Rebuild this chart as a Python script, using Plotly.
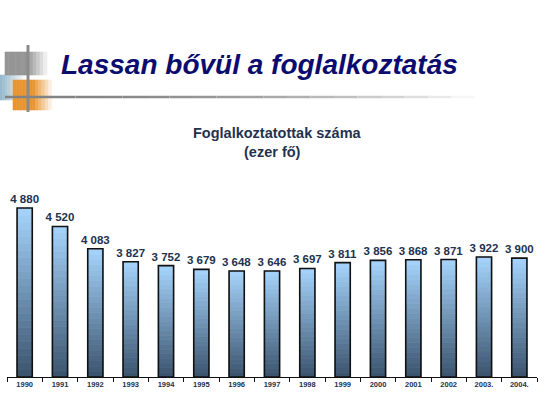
import plotly.graph_objects as go

years = ["1990", "1991", "1992", "1993", "1994", "1995", "1996", "1997",
         "1998", "1999", "2000", "2001", "2002", "2003.", "2004."]
employed = [4880, 4520, 4083, 3827, 3752, 3679, 3648, 3646,
            3697, 3811, 3856, 3868, 3871, 3922, 3900]

Y_MIN = 1570
Y_MAX = 5430
N_SEG = 24
BAR_W = 0.43

def lerp(c1, c2, t):
    return "rgb(%d,%d,%d)" % tuple(round(a + (b - a) * t) for a, b in zip(c1, c2))

bottom_c = (58, 82, 108)
top_c = (166, 212, 252)

fig = go.Figure()
# gradient bars built from stacked segments of each value
for k in range(N_SEG):
    seg = [(v - Y_MIN) / N_SEG for v in employed]
    base = [Y_MIN + k * s for s in seg]
    col = lerp(bottom_c, top_c, (k + 0.5) / N_SEG)
    fig.add_trace(go.Bar(
        x=years, y=seg, base=base, width=BAR_W,
        marker=dict(color=col, line=dict(width=0.8, color=col)),
        showlegend=False, hoverinfo="skip",
    ))

labels = ["{:,}".format(v).replace(",", " ") for v in employed]
fig.add_trace(go.Bar(
    x=years, y=[v - Y_MIN for v in employed], base=[Y_MIN] * len(employed), width=BAR_W,
    marker=dict(color="rgba(0,0,0,0)", line=dict(color="#111111", width=1.6)),
    text=labels, textposition="outside", constraintext="none",
    textfont=dict(family="Arial, Liberation Sans", size=11.5, color="#22324f", weight="bold"),
    cliponaxis=False, showlegend=False,
))

W, H = 546, 399
L, R, T, B = 7, 9, 180, 22

fig.update_layout(
    barmode="overlay",
    width=W, height=H,
    margin=dict(l=L, r=R, t=T, b=B),
    paper_bgcolor="white", plot_bgcolor="white",
    font=dict(family="Arial, Liberation Sans"),
    xaxis=dict(
        type="category", showline=True, linecolor="#111111", linewidth=1.2,
        ticks="outside", tickson="boundaries", ticklen=4, tickcolor="#111111",
        tickfont=dict(size=7.5, color="#22324f", family="Arial, Liberation Sans", weight="bold"),
        showgrid=False, range=[-0.5, 14.5], automargin=False,
    ),
    yaxis=dict(range=[Y_MIN, Y_MAX], visible=False, showgrid=False),
)

pw, ph = W - L - R, H - T - B

def px(x):
    return (x - L) / pw

def py(y):
    return (H - B - y) / ph

shapes = []
# light blue gradient block
for i in range(10):
    c = lerp((150, 185, 205), (255, 255, 255), i / 10)
    shapes.append(dict(type="rect", xref="paper", yref="paper",
                       x0=px(0 + i * 2.5), x1=px(2.5 + i * 2.5), y0=py(100), y1=py(75),
                       fillcolor=c, line=dict(width=0.6, color=c), layer="below"))
# gray block fading
for i in range(12):
    c = lerp((150, 150, 150), (255, 255, 255), max(0, (i - 6) / 6))
    shapes.append(dict(type="rect", xref="paper", yref="paper",
                       x0=px(5 + i * 3.5), x1=px(8.5 + i * 3.5), y0=py(75), y1=py(52),
                       fillcolor=c, line=dict(width=0.6, color=c), layer="below"))
# orange block fading
for i in range(12):
    c = lerp((232, 150, 50), (255, 255, 255), max(0, (i - 6) / 6))
    shapes.append(dict(type="rect", xref="paper", yref="paper",
                       x0=px(13 + i * 3.2), x1=px(16.2 + i * 3.2), y0=py(110), y1=py(80),
                       fillcolor=c, line=dict(width=0.6, color=c), layer="below"))
# vertical gray line
shapes.append(dict(type="line", xref="paper", yref="paper", x0=px(28), x1=px(28), y0=py(45), y1=py(112),
                   line=dict(color="#8a8a8a", width=3)))
# horizontal fading line
for i in range(20):
    x0 = 5 + i * 23.5
    shapes.append(dict(type="line", xref="paper", yref="paper", x0=px(x0), x1=px(x0 + 23.5), y0=py(97), y1=py(97),
                       line=dict(color=lerp((130, 130, 130), (245, 245, 245), (i / 19) ** 2), width=2.5)))
fig.update_layout(shapes=shapes)

fig.add_annotation(xref="paper", yref="paper", x=px(59), y=py(65), xanchor="left", yanchor="middle",
                   text="<b><i>Lassan bővül a foglalkoztatás</i></b>", showarrow=False,
                   font=dict(family="Arial, Liberation Sans", size=28, color="#0c0c6e"))
fig.add_annotation(xref="paper", yref="paper", x=px(277), y=py(133), xanchor="center", yanchor="middle",
                   text="<b>Foglalkoztatottak száma</b>", showarrow=False,
                   font=dict(family="Arial, Liberation Sans", size=14.5, color="#1f3350"))
fig.add_annotation(xref="paper", yref="paper", x=px(272), y=py(152), xanchor="center", yanchor="middle",
                   text="<b>(ezer fő)</b>", showarrow=False,
                   font=dict(family="Arial, Liberation Sans", size=14.5, color="#1f3350"))

fig.write_html("out.html", config={"displayModeBar": False},
               post_script="document.body.style.margin='0px';")
